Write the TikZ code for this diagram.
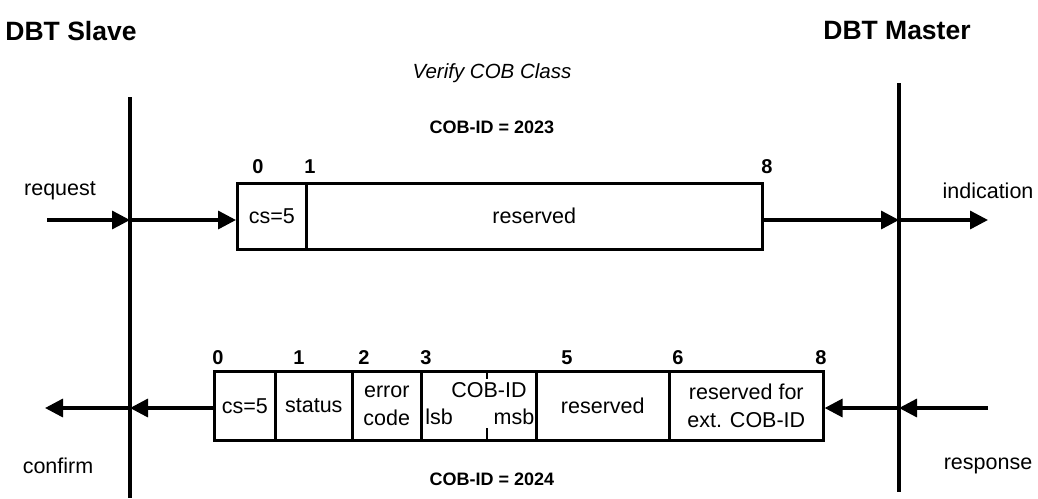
\documentclass[tikz,border=0pt]{standalone}
\usepackage{fontspec}
\setmainfont{Liberation Sans}
\usetikzlibrary{arrows.meta}
\begin{document}
\begin{tikzpicture}[x=1pt,y=-1pt,
  lifeline/.style={line width=3.6pt},
  tip/.style={line width=3.4pt,-{Triangle[length=18pt,width=18pt]}},
  cell/.style={draw,line width=2.6pt,anchor=north west,inner sep=0pt,minimum height=#1},
  lbl/.style={font=\fontsize{21.5}{26}\selectfont,inner sep=0pt},
  twolines/.style={lbl,align=center,font=\fontsize{21.5}{28}\selectfont},
  num/.style={font=\fontsize{20}{24}\selectfont\bfseries,inner sep=0pt},
  head/.style={font=\fontsize{26.5}{30}\selectfont\bfseries,inner sep=0pt},
  cobid/.style={font=\fontsize{18}{22}\selectfont\bfseries,inner sep=0pt}]
\useasboundingbox (0,0) rectangle (1038,498);

% titles
\node[head] (slave) at (71,31) {DBT Slave};
\node[head] (master) at (897,31) {DBT Master};
\node[font=\fontsize{20.5}{24}\selectfont\itshape,inner sep=0pt] (svc) at (492,73) {Verify COB Class};

% time lines of the two devices
\coordinate (slaveTop) at (130,97);
\coordinate (slaveBot) at (130,498);
\coordinate (masterTop) at (899,83);
\coordinate (masterBot) at (899,492);
\draw[lifeline] (slaveTop) -- (slaveBot);
\draw[lifeline] (masterTop) -- (masterBot);

% request frame
\node[cobid] (idreq) at (492,127) {COB-ID = 2023};
\node[cell=66pt,minimum width=69pt] (rcs) at (236,182) {};
\node[cell=66pt,minimum width=456pt] (rres) at (305,182) {};
\node[lbl] at (rcs.center) {cs=5};
\node[lbl] at (rres.center) {reserved};
\node[num] at (258,167) {0};
\node[num] at (310,167) {1};
\node[num] at (767,167) {8};

% request / indication arrows
\coordinate (reqIn) at (47,220);
\coordinate (reqS) at (130,220);
\coordinate (indM) at (899,220);
\coordinate (indOut) at (988,220);
\draw[tip] (reqIn) -- (reqS);
\draw[tip] (reqS) -- (rcs.west |- reqS);
\draw[tip] (rres.east |- indM) -- (indM);
\draw[tip] (indM) -- (indOut);
\node[lbl] (request) at (60,191) {request};
\node[lbl] (indication) at (988,191) {indication};

% response frame
\node[cell=69pt,minimum width=61pt] (scs) at (213,370) {};
\node[cell=69pt,minimum width=77pt] (sst) at (274,370) {};
\node[cell=69pt,minimum width=69pt] (serr) at (351,370) {};
\node[cell=69pt,minimum width=115pt] (scob) at (420,370) {};
\node[cell=69pt,minimum width=133pt] (sres) at (535,370) {};
\node[cell=69pt,minimum width=154pt] (sext) at (668,370) {};
\coordinate (splitTop) at (487,370);
\coordinate (splitBot) at (487,439);
\draw[line width=2.6pt] (splitTop) -- ++(0,9);
\draw[line width=2.6pt] (splitBot) -- ++(0,-11);
\node[lbl] at (scs.center) {cs=5};
\node[lbl] at (sst.center) {status};
\node[twolines] at (serr.center) {error\\code};
\node[lbl] at (489,390) {COB-ID};
\node[lbl] at (439,417) {lsb};
\node[lbl] at (514,417) {msb};
\node[lbl] at (sres.center) {reserved};
\node[twolines] at (sext.center) {reserved for\\ext. COB-ID};
\node[num] at (218,358) {0};
\node[num] at (299,358) {1};
\node[num] at (364,358) {2};
\node[num] at (426,358) {3};
\node[num] at (567,358) {5};
\node[num] at (678,358) {6};
\node[num] at (821,358) {8};
\node[cobid] (idres) at (492,479) {COB-ID = 2024};

% response / confirm arrows
\coordinate (resIn) at (988,408);
\coordinate (resM) at (899,408);
\coordinate (conS) at (130,408);
\coordinate (conOut) at (45,408);
\draw[tip] (resIn) -- (resM);
\draw[tip] (resM) -- (sext.east |- resM);
\draw[tip] (scs.west |- conS) -- (conS);
\draw[tip] (conS) -- (conOut);
\node[lbl] (confirm) at (58,466) {confirm};
\node[lbl] (response) at (988,466) {response};
\end{tikzpicture}
\end{document}
